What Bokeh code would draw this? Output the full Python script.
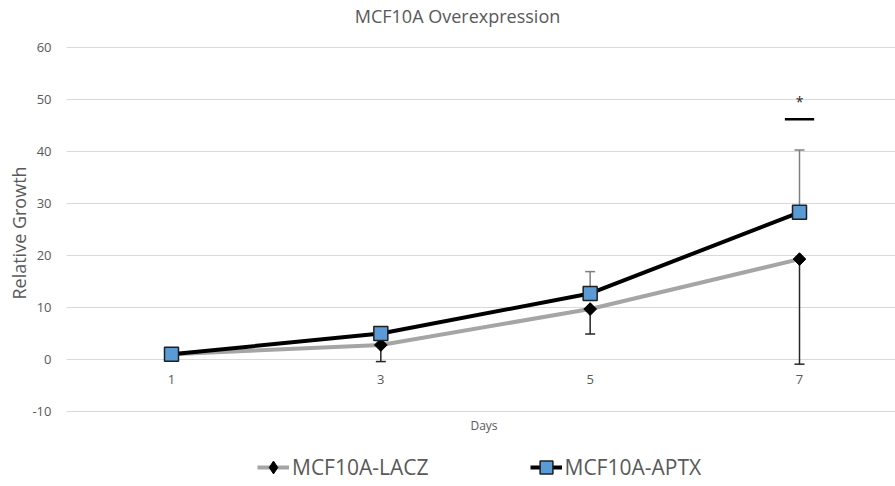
import math
from bokeh.plotting import figure
from bokeh.models import Whisker, TeeHead, FixedTicker, Legend, LegendItem, Label, Range1d, ColumnDataSource
from bokeh.core.properties import value
from bokeh.embed import file_html
from bokeh.resources import INLINE

# ---- data ----
days = [1, 3, 5, 7]
lacz = [1.0, 2.8, 9.7, 19.3]
lacz_err = [0.0, 3.2, 4.8, 20.2]
aptx = [1.0, 5.0, 12.7, 28.3]
aptx_err = [0.0, 1.0, 4.2, 12.0]
y_ticks = [-10, 0, 10, 20, 30, 40, 50, 60]
series_names = ["MCF10A-LACZ", "MCF10A-APTX"]
sig_day = [7]
sig_bar_y = [46.2]
sig_star_y = [49.7]
sig_text = ["*"]
title_text = "MCF10A Overexpression"
x_title = "Days"
y_title = "Relative Growth"

FONT = "Open Sans"
TXT = "#595959"
W, H = 895, 486

# the plot frame covers the whole canvas; the data region maps
# day 1 -> 171 px, day 7 -> 799 px, value 60 -> 47 px, value -10 -> 411 px
XS = (799 - 171) / 6.0
YS = (411 - 47) / 70.0
def px_x(px):
    return 1 + (px - 171) / XS
def px_y(py):
    return 60 - (py - 47) / YS

x_lo, x_hi = px_x(66), px_x(W)

p = figure(width=W, height=H, output_backend="svg", toolbar_location=None,
           x_range=Range1d(px_x(0), px_x(W)), y_range=Range1d(px_y(H), px_y(0)),
           min_border=0)
p.outline_line_color = None
p.background_fill_color = "white"
p.border_fill_color = "white"
p.xgrid.grid_line_color = None
p.ygrid.grid_line_color = None

# horizontal gridlines over the plot area
p.segment(x0=[x_lo] * len(y_ticks), x1=[x_hi] * len(y_ticks), y0=y_ticks, y1=y_ticks,
          line_color="#D9D9D9", line_width=1, level="underlay")

# y axis at the plot area's left edge
ya = p.yaxis[0]
ya.fixed_location = x_lo
ya.ticker = FixedTicker(ticks=y_ticks)
ya.major_label_overrides = {t: str(t) for t in y_ticks}
ya.axis_line_color = None
ya.major_tick_line_color = None
ya.minor_tick_line_color = None
ya.major_label_text_font = FONT
ya.major_label_text_font_size = "13px"
ya.major_label_text_color = TXT
ya.major_label_standoff = 9

# x axis crossing at value 0
xa = p.xaxis[0]
xa.fixed_location = 0
xa.ticker = FixedTicker(ticks=days)
xa.axis_line_color = None
xa.major_tick_line_color = None
xa.minor_tick_line_color = None
xa.major_label_text_font = FONT
xa.major_label_text_font_size = "13px"
xa.major_label_text_color = TXT
xa.major_label_standoff = 9

src = ColumnDataSource(dict(
    x=days, lacz=lacz, aptx=aptx,
    lacz_lo=[v - e for v, e in zip(lacz, lacz_err)],
    aptx_hi=[v + e for v, e in zip(aptx, aptx_err)],
))

# error bars
w1 = Whisker(source=src, base="x", lower="lacz_lo", upper="lacz", dimension="height",
             line_color="#262626", line_width=1.5, level="underlay",
             lower_head=TeeHead(size=10, line_color="#262626", line_width=1.5), upper_head=None)
w2 = Whisker(source=src, base="x", lower="aptx", upper="aptx_hi", dimension="height",
             line_color="#7F7F7F", line_width=1.5, level="underlay",
             upper_head=TeeHead(size=10, line_color="#7F7F7F", line_width=1.5), lower_head=None)
p.add_layout(w1)
p.add_layout(w2)

l1 = p.line("x", "lacz", source=src, line_color="#A5A5A5", line_width=4)
# diamond (used for the legend key) under a rotated square (equal-sided diamond)
m1_key = p.scatter("x", "lacz", source=src, marker="diamond", size=12,
                   fill_color="black", line_color="black", line_width=1)
m1 = p.scatter("x", "lacz", source=src, marker="square", angle=math.pi / 4, size=9,
               fill_color="black", line_color="black", line_width=1)
l2 = p.line("x", "aptx", source=src, line_color="black", line_width=4)
m2 = p.scatter("x", "aptx", source=src, marker="square", size=14,
               fill_color="#5B9BD5", line_color="#1F1F1F", line_width=1.5)

# significance marker
p.segment(x0=[d - 0.14 for d in sig_day], x1=[d + 0.14 for d in sig_day],
          y0=sig_bar_y, y1=sig_bar_y, line_color="black", line_width=2.5)
p.text(x=sig_day, y=sig_star_y, text=sig_text, text_align="center", text_baseline="middle",
       text_font=value(FONT), text_font_size="14px", text_color="#262626")

# titles
p.add_layout(Label(x=px_x(457), y=px_y(15), text=title_text, text_align="center",
                   text_baseline="middle", text_font=FONT, text_font_size="18px", text_color=TXT))
p.add_layout(Label(x=px_x(483.5), y=px_y(425), text=x_title, text_align="center",
                   text_baseline="middle", text_font=FONT, text_font_size="12px", text_color=TXT))
p.add_layout(Label(x=px_x(18.5), y=px_y(232.5), text=y_title, text_align="center",
                   text_baseline="middle", angle=math.pi / 2, text_font=FONT,
                   text_font_size="18px", text_color=TXT))

legend = Legend(items=[LegendItem(label=series_names[0], renderers=[l1, m1_key]),
                       LegendItem(label=series_names[1], renderers=[l2, m2])],
                location=(257, 3), orientation="horizontal", spacing=101,
                glyph_width=32, glyph_height=32, label_standoff=3, padding=0, margin=0,
                border_line_color=None, background_fill_alpha=0,
                label_text_font=FONT, label_text_font_size="21px", label_text_color=TXT)
p.add_layout(legend, "center")

open("out.html", "w").write(file_html(p, INLINE))
